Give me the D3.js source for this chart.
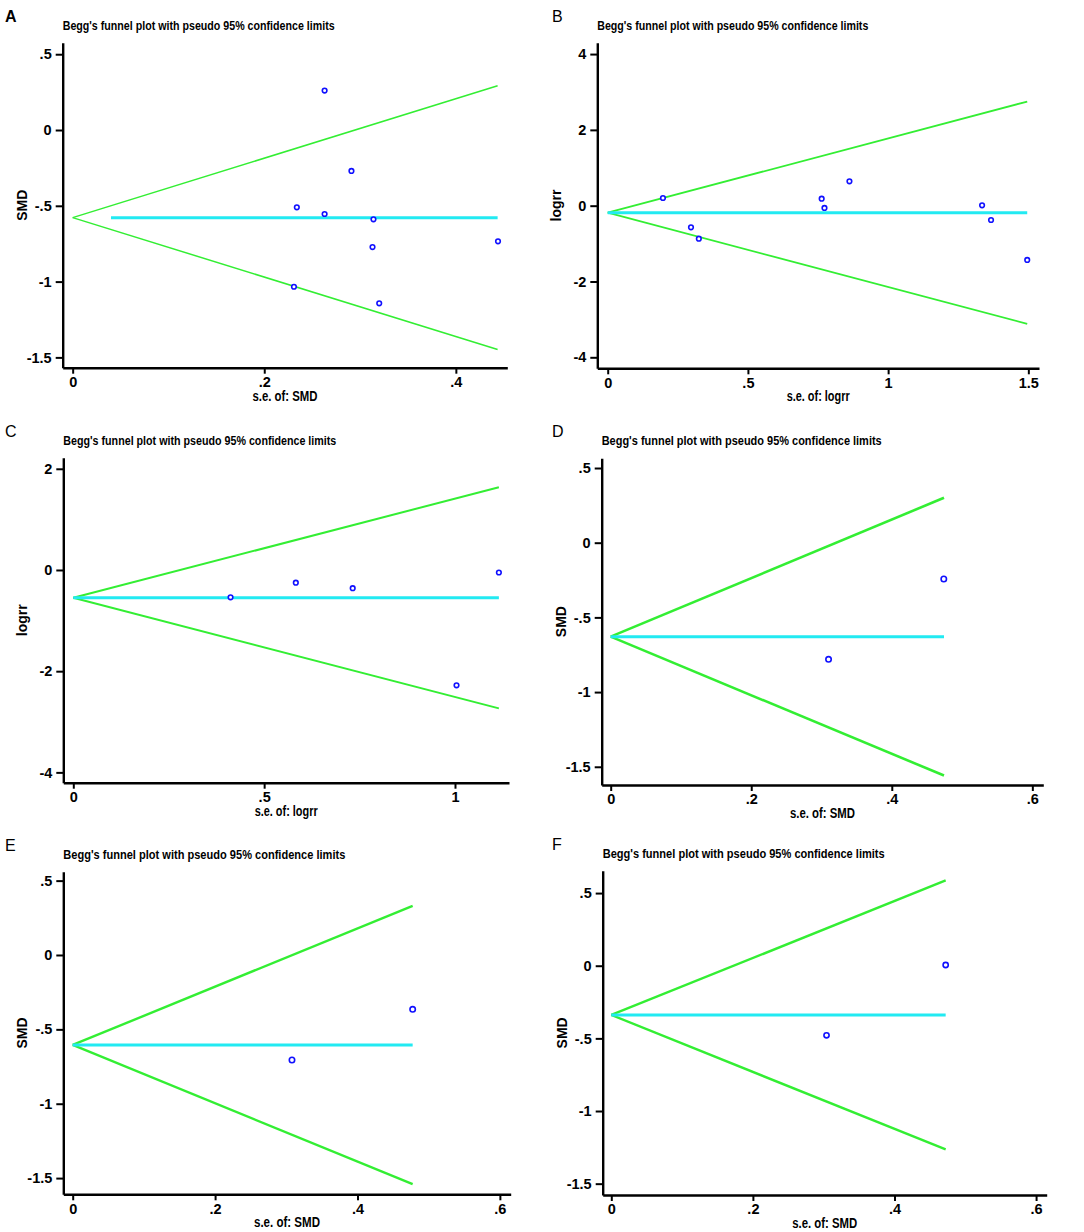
<!DOCTYPE html>
<html>
<head>
<meta charset="utf-8">
<script src="https://cdn.jsdelivr.net/npm/d3@7"></script>
<style>
  body { margin: 0; background: #fff; }
  svg { display: block; }
</style>
</head>
<body>
<script>
// panel letters and axis titles
var panelIds = ["A", "B", "C", "D", "E", "F"];
var yTitles = ["SMD", "logrr", "logrr", "SMD", "SMD", "SMD"];
var xTitles = ["s.e. of: SMD", "s.e. of: logrr", "s.e. of: logrr", "s.e. of: SMD", "s.e. of: SMD", "s.e. of: SMD"];
var plotTitle = "Begg's funnel plot with pseudo 95% confidence limits";

// study points: standard error and effect, per panel
var seA = [0.263, 0.291, 0.234, 0.263, 0.314, 0.313, 0.444, 0.231, 0.320];
var esA = [0.26, -0.27, -0.51, -0.554, -0.589, -0.772, -0.734, -1.034, -1.143];
var seB = [0.197, 0.297, 0.325, 0.763, 0.773, 0.862, 1.335, 1.367, 1.496];
var esB = [0.203, -0.57, -0.87, 0.185, -0.06, 0.643, 0.01, -0.377, -1.43];
var seC = [0.412, 0.583, 0.732, 1.004, 1.115];
var esC = [-0.54, -0.25, -0.36, -2.28, -0.05];
var seD = [0.310, 0.474];
var esD = [-0.781, -0.243];
var seE = [0.308, 0.4775];
var esE = [-0.706, -0.365];
var seF = [0.304, 0.4723];
var esF = [-0.479, 0.005];

// pooled estimate, largest s.e. and where the pooled line starts
var pooled = [-0.578, -0.185, -0.55, -0.629, -0.605, -0.339];
var seMax = [0.4436, 1.496, 1.115, 0.4743, 0.4775, 0.4723];
var pooledFrom = [0.04, 0, 0, 0, 0, 0];

// axis ranges and ticks
var xDomains = [[-0.0104, 0.4537], [-0.0371, 1.538], [-0.0262, 1.1415], [-0.0128, 0.6156], [-0.0132, 0.6152], [-0.01215, 0.615]];
var yDomains = [[-1.568, 0.576], [-4.29, 4.30], [-4.204, 2.219], [-1.622, 0.565], [-1.609, 0.560], [-1.578, 0.654]];
var xTicks = [[0, 0.2, 0.4], [0, 0.5, 1, 1.5], [0, 0.5, 1], [0, 0.2, 0.4, 0.6], [0, 0.2, 0.4, 0.6], [0, 0.2, 0.4, 0.6]];
var yTicks = [[-1.5, -1, -0.5, 0, 0.5], [-4, -2, 0, 2, 4], [-4, -2, 0, 2], [-1.5, -1, -0.5, 0, 0.5], [-1.5, -1, -0.5, 0, 0.5], [-1.5, -1, -0.5, 0, 0.5]];

var seAll = [seA, seB, seC, seD, seE, seF];
var esAll = [esA, esB, esC, esD, esE, esF];

// layout of each plot box (left, top, right, bottom)
var boxes = [
  [62.7, 42.7, 507.3, 367.7],
  [597.3, 42.7, 1039, 368.3],
  [63.3, 457.7, 509, 782.7],
  [601.7, 458.3, 1043.3, 785],
  [63.3, 871.7, 510.7, 1194.3],
  [602.7, 870.7, 1046.7, 1195]
];
var limitWidth = [1.5, 1.8, 2, 2.6, 2.4, 2.4];
var dotR = [2.3, 2.3, 2.3, 2.7, 2.7, 2.6];
var titleLen = [272, 271, 273, 280, 282, 282];
var xTitleLen = [65, 63, 63, 65, 66, 65];
var letterX = [5, 552, 5, 552, 5, 552];

var W = 1084, H = 1232;
var svg = d3.select("body").append("svg").attr("width", W).attr("height", H);

var fmt = function(v) { return String(v).replace("0.", "."); };
var font = "'Liberation Sans Narrow', 'Arial Narrow', 'Liberation Sans', Arial, sans-serif";

panelIds.forEach(function(id, i) {
  var b = boxes[i];
  var x = d3.scaleLinear().domain(xDomains[i]).range([b[0], b[2]]);
  var y = d3.scaleLinear().domain(yDomains[i]).range([b[3], b[1]]);
  var g = svg.append("g");

  // panel letter
  g.append("text")
    .attr("x", letterX[i]).attr("y", b[1] - 21)
    .attr("font-family", "'Liberation Sans', Arial, sans-serif")
    .attr("font-size", 16)
    .attr("font-weight", i == 0 ? "bold" : "normal")
    .text(id);

  // title
  g.append("text")
    .attr("x", b[0]).attr("y", b[1] - 13)
    .attr("font-family", font).attr("font-weight", "bold").attr("font-size", 13.5)
    .attr("textLength", titleLen[i]).attr("lengthAdjust", "spacingAndGlyphs")
    .text(plotTitle);

  // pseudo 95% limits
  var lim = [1.96, -1.96];
  lim.forEach(function(z) {
    g.append("line")
      .attr("x1", x(0)).attr("y1", y(pooled[i]))
      .attr("x2", x(seMax[i])).attr("y2", y(pooled[i] + z * seMax[i]))
      .attr("stroke", "#33ee33").attr("stroke-width", limitWidth[i]);
  });

  // pooled estimate
  g.append("line")
    .attr("x1", x(pooledFrom[i])).attr("y1", y(pooled[i]))
    .attr("x2", x(seMax[i])).attr("y2", y(pooled[i]))
    .attr("stroke", "#22eaf2").attr("stroke-width", 3);

  // studies
  var pts = seAll[i].map(function(s, k) { return [s, esAll[i][k]]; });
  g.selectAll("circle").data(pts).enter().append("circle")
    .attr("cx", function(d) { return x(d[0]); })
    .attr("cy", function(d) { return y(d[1]); })
    .attr("r", dotR[i])
    .attr("fill", "#fff").attr("stroke", "#1010ff").attr("stroke-width", 1.6);

  // axes
  var ax = g.append("g").attr("transform", "translate(0," + b[3] + ")")
    .call(d3.axisBottom(x).tickValues(xTicks[i]).tickFormat(fmt).tickSize(6).tickSizeOuter(0).tickPadding(3));
  var ay = g.append("g").attr("transform", "translate(" + b[0] + ",0)")
    .call(d3.axisLeft(y).tickValues(yTicks[i]).tickFormat(fmt).tickSize(7).tickSizeOuter(0).tickPadding(4));
  [ax, ay].forEach(function(a) {
    a.select(".domain").attr("stroke", "#000").attr("stroke-width", 2.4);
    a.selectAll(".tick line").attr("stroke", "#000").attr("stroke-width", 2);
    a.selectAll(".tick text")
      .attr("font-family", "'Liberation Sans', Arial, sans-serif")
      .attr("font-weight", "bold").attr("font-size", 14.5).attr("fill", "#000");
  });

  // axis titles
  g.append("text")
    .attr("x", (b[0] + b[2]) / 2).attr("y", b[3] + 33)
    .attr("text-anchor", "middle")
    .attr("font-family", font).attr("font-weight", "bold").attr("font-size", 14)
    .attr("textLength", xTitleLen[i]).attr("lengthAdjust", "spacingAndGlyphs")
    .text(xTitles[i]);
  g.append("text")
    .attr("transform", "translate(" + (b[0] - 36) + "," + ((b[1] + b[3]) / 2) + ") rotate(-90)")
    .attr("text-anchor", "middle")
    .attr("font-family", font).attr("font-weight", "bold").attr("font-size", 14)
    .text(yTitles[i]);
});
</script>
</body>
</html>
